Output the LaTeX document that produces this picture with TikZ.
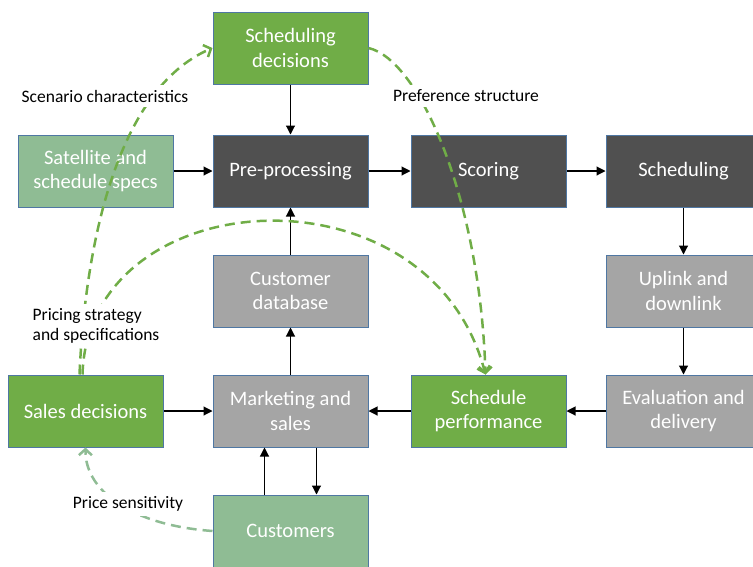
\documentclass[tikz,border=0pt]{standalone}
\usepackage{fontspec}
\setmainfont{Carlito}
\usetikzlibrary{arrows.meta}
\definecolor{boxgreen}{HTML}{70AD47}
\definecolor{boxpale}{HTML}{8FBC94}
\definecolor{boxdark}{HTML}{505050}
\definecolor{boxgrey}{HTML}{A5A5A5}
\definecolor{boxedge}{HTML}{4F77A3}

\begin{document}
\begin{tikzpicture}[x=1pt,y=-1pt,
    box/.style={draw=boxedge,line width=1pt,minimum width=155pt,minimum height=72pt,
      inner sep=2pt,align=center,text=white,font=\fontsize{20.5}{24.5}\selectfont},
    greenbox/.style={box,fill=boxgreen},
    palebox/.style={box,fill=boxpale},
    darkbox/.style={box,fill=boxdark},
    greybox/.style={box,fill=boxgrey},
    link/.style={-{Triangle[length=9pt,width=9pt]},line width=1.1pt},
    dashlink/.style={draw=boxgreen,line width=2.5pt,dash pattern=on 10pt off 6pt,
      -{Straight Barb[length=6pt,width=13pt]}},
    palelink/.style={dashlink,draw=boxpale},
    note/.style={fill=white,inner xsep=2pt,inner ysep=5pt,font=\fontsize{17.5}{20}\selectfont}]
      \useasboundingbox (0,0) rectangle (753,566);
      \clip (0,0) rectangle (753,566);

      \node[greenbox] (sched-dec)  at (290.5,48)  {Scheduling\\decisions};
      \node[palebox]  (sat-specs)  at (95.5,171)  {Satellite and\\schedule specs};
      \node[darkbox]  (pre-proc)   at (290.5,171) {Pre-processing};
      \node[darkbox]  (scoring)    at (488.5,171) {Scoring};
      \node[darkbox]  (scheduling) at (683.5,171) {Scheduling};
      \node[greybox]  (cust-db)    at (290.5,291) {Customer\\database};
      \node[greybox]  (uplink)     at (683.5,291) {Uplink and\\downlink};
      \node[greenbox] (sales-dec)  at (85.5,411)  {Sales decisions};
      \node[greybox]  (marketing)  at (290.5,411) {Marketing and\\sales};
      \node[greenbox] (sched-perf) at (488.5,411) {Schedule\\performance};
      \node[greybox]  (eval-del)   at (683.5,411) {Evaluation and\\delivery};
      \node[palebox]  (customers)  at (290.5,531) {Customers};

      \draw[link] (sched-dec) -- (pre-proc);
      \draw[link] (sat-specs) -- (pre-proc);
      \draw[link] (pre-proc) -- (scoring);
      \draw[link] (scoring) -- (scheduling);
      \draw[link] (scheduling) -- (uplink);
      \draw[link] (uplink) -- (eval-del);
      \draw[link] (eval-del) -- (sched-perf);
      \draw[link] (sched-perf) -- (marketing);
      \draw[link] (sales-dec) -- (marketing);
      \draw[link] (marketing) -- (cust-db);
      \draw[link] (cust-db) -- (pre-proc);
      \draw[link] ([xshift=-26]customers.north) -- ([xshift=-26]marketing.south);
      \draw[link] ([xshift=26]marketing.south) -- ([xshift=26]customers.north);

      \draw[dashlink] ([xshift=-6]sales-dec.north) .. controls (85,250) and (115,90) .. (sched-dec.west);
      \draw[dashlink] ([xshift=-3]sales-dec.north) .. controls (88,180) and (430,160) .. ([xshift=-3]sched-perf.north);
      \draw[dashlink] (sched-dec.east) .. controls (420,60) and (480,200) .. ([xshift=-3]sched-perf.north);
      \draw[palelink] (customers.west) .. controls (130,525) and (85,490) .. (sales-dec.south);

      \node[note] (scenario)    at (105,96)  {Scenario characteristics};
      \node[note] (preference)  at (466,96)  {Preference structure};
      \node[note,align=left] (pricing) at (96,326) {Pricing strategy\\and specifications};
      \node[note] (sensitivity) at (128,504) {Price sensitivity};
    \end{tikzpicture}
\end{document}
